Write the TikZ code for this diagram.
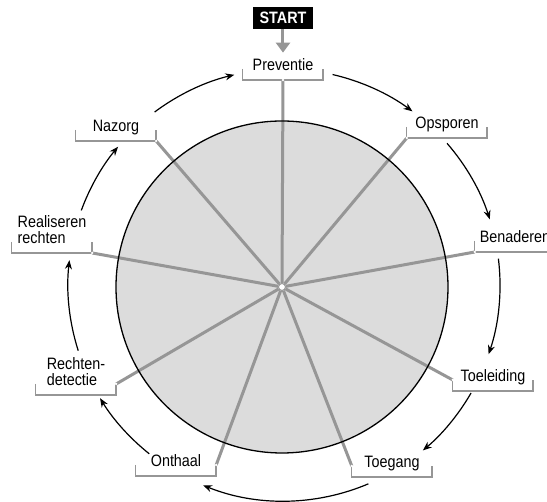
\documentclass[tikz,border=0pt]{standalone}
\usepackage{fontspec}
\setmainfont{Liberation Sans}[FakeStretch=0.87]
\usepackage{xcolor}
\usetikzlibrary{arrows.meta}
\definecolor{disc}{HTML}{DCDCDC}
\definecolor{spokegray}{HTML}{969696}

\begin{document}
\begin{tikzpicture}[x=1pt,y=1pt,
    stage/.style={anchor=south,minimum width=80pt,inner xsep=0pt,inner ysep=6pt,text depth=3pt,align=left,font=\fontsize{16.5}{16}\selectfont},
    spoke/.style={spokegray,line width=3pt},
    bracket/.style={spokegray,line width=1.4pt},
    flow/.style={-{Stealth[length=9pt,width=7pt]},line width=1.2pt}]
    \useasboundingbox (-282,-215) rectangle (265,287);
    \fill[disc] (0,0) circle (166pt);
    \node[stage] (prev) at (1,207) {Preventie};
    \node[stage] (ops) at (165,149) {Opsporen};
    \node[stage] (ben) at (233,35) {Benaderen};
    \node[stage] (toel) at (211,-104) {Toeleiding};
    \node[stage] (toeg) at (110,-190) {Toegang};
    \node[stage] (onth) at (-106,-189) {Onthaal};
    \node[stage] (recht) at (-206,-108) {Rechten-\\detectie};
    \node[stage] (real) at (-230,34) {Realiseren\\rechten};
    \node[stage] (naz) at (-166,146) {Nazorg};
    \node[fill=black,text=white,font=\bfseries\fontsize{16.5}{16}\selectfont,minimum width=60pt,minimum height=22pt,inner sep=0pt] (start) at (1,269) {START};
    \draw[spokegray,line width=3pt,-{Triangle[length=10pt,width=14pt]}] (start) -- (prev);
    \node[circle,fill=white,draw=spokegray,line width=1pt,minimum size=7pt,inner sep=0pt] (hub) at (0,0) {};
    \coordinate (e1) at (prev.south);
    \coordinate (e2) at (ops.south west);
    \coordinate (e3) at (ben.south west);
    \coordinate (e4) at ([yshift=11pt]toel.south west);
    \coordinate (e5) at ([yshift=11pt]toeg.south west);
    \coordinate (e6) at ([yshift=11pt]onth.south east);
    \coordinate (e7) at ([yshift=11pt]recht.south east);
    \coordinate (e8) at (real.south east);
    \coordinate (e9) at (naz.south east);
    \foreach \i in {1,...,9}
        \draw[spoke] (hub) -- (e\i);
    \draw[line width=1.3pt] (0,0) circle (166pt);
    \foreach \n in {prev,ops,ben,toel,toeg,onth,recht,real,naz}
        \draw[bracket] ([yshift=11pt]\n.south west) -- (\n.south west) -- (\n.south east) -- ([yshift=11pt]\n.south east);
    \foreach \i in {1,...,9}
        \fill[white] (e\i) circle (1.3pt);
    \foreach \a/\b in {77/53.5,41/17.7,7/-18.7,-30/-50,-67/-112,-128.6/-148.4,-162.3/-186.6,159.8/140.2,126.8/103.3}
        \draw[flow] ([shift={(2,2)}]\a:216pt) arc[start angle=\a,end angle=\b,radius=216pt];
\end{tikzpicture}
\end{document}
